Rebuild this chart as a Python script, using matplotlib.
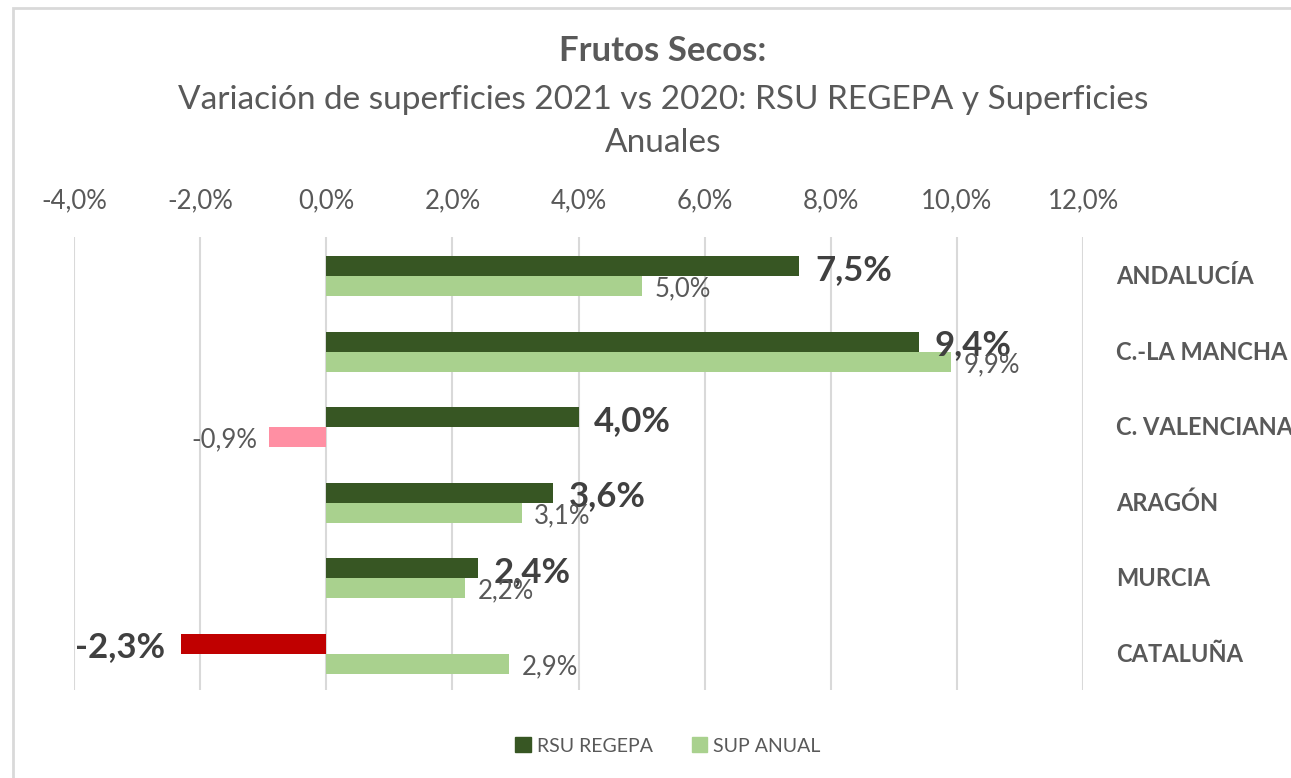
import matplotlib.pyplot as plt
import numpy as np
from matplotlib.patches import Rectangle

plt.rcParams['font.family'] = ['Lato', 'DejaVu Sans']

regiones = ['ANDALUCÍA', 'C.-LA MANCHA', 'C. VALENCIANA', 'ARAGÓN', 'MURCIA', 'CATALUÑA']
rsu_regepa = [7.5, 9.4, 4.0, 3.6, 2.4, -2.3]
sup_anual = [5.0, 9.9, -0.9, 3.1, 2.2, 2.9]
ticks_x = [-4, -2, 0, 2, 4, 6, 8, 10, 12]

VERDE_OSC = '#375623'
VERDE_CLA = '#A9D18E'
ROJO = '#C00000'
ROSA = '#FF8FA3'
GRIS = '#595959'


def fmt(v):
    return f'{v:.1f}%'.replace('.', ',')


fig = plt.figure(figsize=(12.91, 7.78), dpi=100)
ax = fig.add_axes([74 / 1291, 88 / 778, (1083 - 74) / 1291, (690 - 237) / 778])

y = np.arange(len(regiones))
h = 0.265

col_rsu = [ROJO if v < 0 else VERDE_OSC for v in rsu_regepa]
col_sup = [ROSA if v < 0 else VERDE_CLA for v in sup_anual]
ax.barh(y - h / 2 + 0.02, rsu_regepa, height=h, color=col_rsu, zorder=3)
ax.barh(y + h / 2 + 0.02, sup_anual, height=h, color=col_sup, zorder=3)

# etiquetas de datos
for i, v in enumerate(rsu_regepa):
    ha = 'left' if v >= 0 else 'right'
    off = 0.25 if v >= 0 else -0.25
    ax.text(v + off, i - h / 2 + 0.07, fmt(v), ha=ha, va='center',
            fontsize=25, fontweight='bold', color='#404040', zorder=4)
for i, v in enumerate(sup_anual):
    ha = 'left' if v >= 0 else 'right'
    off = 0.2 if v >= 0 else -0.2
    ax.text(v + off, i + h / 2 + 0.06, fmt(v), ha=ha, va='center',
            fontsize=18.5, color=GRIS, zorder=4)

ax.set_xlim(-4, 12)
ax.set_ylim(len(regiones) - 0.5, -0.5)
ax.set_xticks(ticks_x)
ax.set_xticklabels([fmt(t) for t in ticks_x])
ax.xaxis.tick_top()
ax.tick_params(axis='x', length=0, labelsize=18.5, labelcolor=GRIS, pad=17)
ax.set_yticks(y)
ax.set_yticklabels(regiones, fontweight='bold')
ax.yaxis.tick_right()
ax.tick_params(axis='y', length=0, labelsize=17, labelcolor=GRIS, pad=24)
ax.grid(axis='x', color='#D9D9D9', linewidth=1.5, zorder=0)
for s in ax.spines.values():
    s.set_visible(False)

cx = 663 / 1291
fig.text(cx, 1 - 51 / 778, 'Frutos Secos:', ha='center', va='center',
         fontsize=25, fontweight='bold', color=GRIS)
fig.text(cx, 1 - 100 / 778, 'Variación de superficies 2021 vs 2020: RSU REGEPA y Superficies',
         ha='center', va='center', fontsize=24, color=GRIS)
fig.text(cx, 1 - 143 / 778, 'Anuales', ha='center', va='center', fontsize=24, color=GRIS)

h1 = Rectangle((0, 0), 1, 1, color=VERDE_OSC)
h2 = Rectangle((0, 0), 1, 1, color=VERDE_CLA)
fig.legend([h1, h2], ['RSU REGEPA', 'SUP ANUAL'], loc='center',
           bbox_to_anchor=(668 / 1291, 1 - 746 / 778), ncol=2, frameon=False,
           fontsize=14, labelcolor=GRIS, handlelength=0.8, handleheight=0.8,
           handletextpad=0.3, columnspacing=2.0)

# marco del gráfico
fig.add_artist(Rectangle((13 / 1291, -0.1), 1.2, 1 - 8.5 / 778 + 0.1,
                         transform=fig.transFigure, fill=False,
                         edgecolor='#D9D9D9', linewidth=2))

fig.savefig('out.png', dpi=100)
